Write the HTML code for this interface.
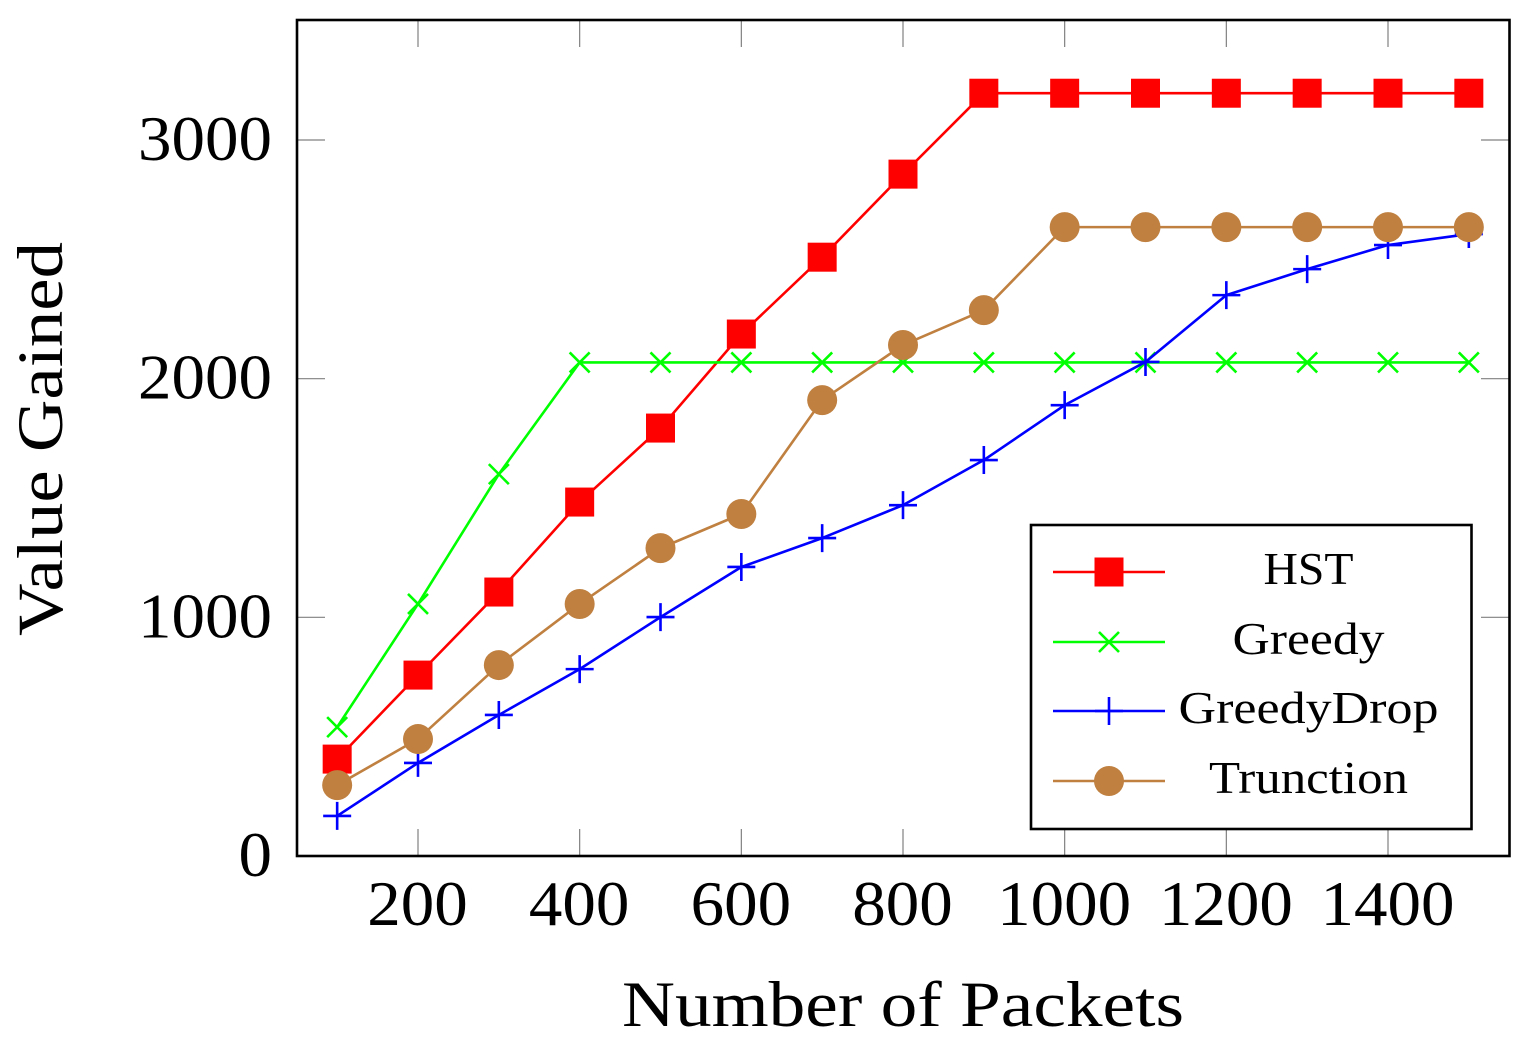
<!DOCTYPE html>
<html>
<head>
<meta charset="utf-8">
<title>Value Gained vs Number of Packets</title>
<style>
html,body{margin:0;padding:0;background:#fff;}
svg{display:block;}
text{font-family:"Liberation Serif",serif;fill:#000;}
</style>
</head>
<body>
<svg id="chart" width="1526" height="1048" viewBox="0 0 1526 1048" xmlns="http://www.w3.org/2000/svg">
<g id="grid-ticks"></g>
<g id="series"></g>
<rect x="297" y="20" width="1212.5" height="836" fill="none" stroke="#000" stroke-width="2.6"/>
<g id="tick-labels"></g>
<text x="903" y="1026" font-size="65" text-anchor="middle" textLength="562" lengthAdjust="spacingAndGlyphs">Number of Packets</text>
<text transform="translate(62,439) rotate(-90)" font-size="65" text-anchor="middle" textLength="394" lengthAdjust="spacingAndGlyphs">Value Gained</text>
<g id="legend">
<rect x="1031" y="525" width="440.5" height="304" fill="#fff" stroke="#000" stroke-width="2.6"/>
</g>
</svg>
<script>
const xValues = [100,200,300,400,500,600,700,800,900,1000,1100,1200,1300,1400,1500];
const xTicks = [200,400,600,800,1000,1200,1400];
const yTicks = [0,1000,2000,3000];
const hstValues = [406,758,1106,1483,1793,2187,2509,2857,3196,3196,3196,3196,3196,3196,3196];
const greedyValues = [540,1056,1600,2068,2068,2068,2068,2068,2068,2068,2068,2068,2068,2068,2068];
const greedyDropValues = [168,390,591,783,1001,1211,1332,1470,1659,1889,2070,2350,2459,2560,2606];
const truncationValues = [297,490,800,1056,1290,1433,1910,2141,2287,2635,2635,2635,2635,2635,2635];
const seriesNames = ['HST','Greedy','GreedyDrop','Trunction'];

const NS = 'http://www.w3.org/2000/svg';
function xScale(v){ return 418 + (v - 200) * (1388 - 418) / 1200; }
function yScale(v){ return 856 - v * (856 - 140) / 3000; }
function make(tag, attrs, parent){
  const el = document.createElementNS(NS, tag);
  for (const k in attrs) el.setAttribute(k, attrs[k]);
  parent.appendChild(el);
  return el;
}
function drawMarker(kind, x, y, color, parent){
  let el;
  if (kind === 'square') {
    el = make('rect', {x: x - 14.5, y: y - 14.5, width: 29, height: 29, fill: color}, parent);
  } else if (kind === 'circle') {
    el = make('circle', {cx: x, cy: y, r: 15, fill: color}, parent);
  } else if (kind === 'cross') {
    const d = 'M' + (x-10) + ' ' + (y-10) + 'L' + (x+10) + ' ' + (y+10) + 'M' + (x-10) + ' ' + (y+10) + 'L' + (x+10) + ' ' + (y-10);
    el = make('path', {d: d, stroke: color, 'stroke-width': 2.6, fill: 'none'}, parent);
  } else {
    const d = 'M' + (x-14) + ' ' + y + 'L' + (x+14) + ' ' + y + 'M' + x + ' ' + (y-14) + 'L' + x + ' ' + (y+14);
    el = make('path', {d: d, stroke: color, 'stroke-width': 2.6, fill: 'none'}, parent);
  }
  return el;
}

const tickGroup = document.getElementById('grid-ticks');
const labelGroup = document.getElementById('tick-labels');
xTicks.forEach(function(t){
  const x = xScale(t);
  const top = make('line', {x1: x, x2: x, y1: 20, y2: 47, stroke: '#808080', 'stroke-width': 1.2}, tickGroup);
  
  
  const bottom = make('line', {x1: x, x2: x, y1: 829, y2: 856, stroke: '#808080', 'stroke-width': 1.2}, tickGroup);
  
  
  const label = make('text', {x: x - 0.5, y: 925, 'font-size': 64, 'text-anchor': 'middle', textLength: String(t).length * 33.5, lengthAdjust: 'spacingAndGlyphs'}, labelGroup);
  
  
  label.textContent = t;
});
yTicks.forEach(function(t){
  const y = yScale(t);
  const left = make('line', {x1: 297, x2: 325, y1: y, y2: y, stroke: '#808080', 'stroke-width': 1.2}, tickGroup);
  
  
  const right = make('line', {x1: 1481, x2: 1509, y1: y, y2: y, stroke: '#808080', 'stroke-width': 1.2}, tickGroup);
  
  
  const label = make('text', {x: 272, y: y + 20, 'font-size': 64, 'text-anchor': 'end', textLength: String(t).length * 33.5, lengthAdjust: 'spacingAndGlyphs'}, labelGroup);
  
  
  label.textContent = t;
});

const seriesStyles = [
  {values: hstValues, color: '#ff0000', marker: 'square'},
  {values: greedyValues, color: '#00ff00', marker: 'cross'},
  {values: greedyDropValues, color: '#0000ff', marker: 'plus'},
  {values: truncationValues, color: '#bf8040', marker: 'circle'}
];
const seriesGroup = document.getElementById('series');
const legendGroup = document.getElementById('legend');
const legendY = [572, 642, 711, 781];
seriesStyles.forEach(function(s, i){
  const g = make('g', {}, seriesGroup);
  
  
  const pts = s.values.map(function(v, j){ return xScale(xValues[j]) + ',' + yScale(v); }).join(' ');
  const line = make('polyline', {points: pts, fill: 'none', stroke: s.color, 'stroke-width': 2.6, 'stroke-linejoin': 'round'}, g);
  
  
  s.values.forEach(function(v, j){
    const m = drawMarker(s.marker, xScale(xValues[j]), yScale(v), s.color, g);
    
    
  });

  const ly = legendY[i];
  const entry = make('g', {}, legendGroup);
  
  
  const ll = make('line', {x1: 1053, x2: 1165, y1: ly, y2: ly, stroke: s.color, 'stroke-width': 2.6}, entry);
  
  
  const lm = drawMarker(s.marker, 1109, ly, s.color, entry);
  
  
  const widths = [90, 152, 260, 199];
  const lt = make('text', {x: 1308.5, y: ly + 12, 'font-size': 46, 'text-anchor': 'middle', textLength: widths[i], lengthAdjust: 'spacingAndGlyphs'}, entry);
  
  
  lt.textContent = seriesNames[i];
});
</script>
</body>
</html>
